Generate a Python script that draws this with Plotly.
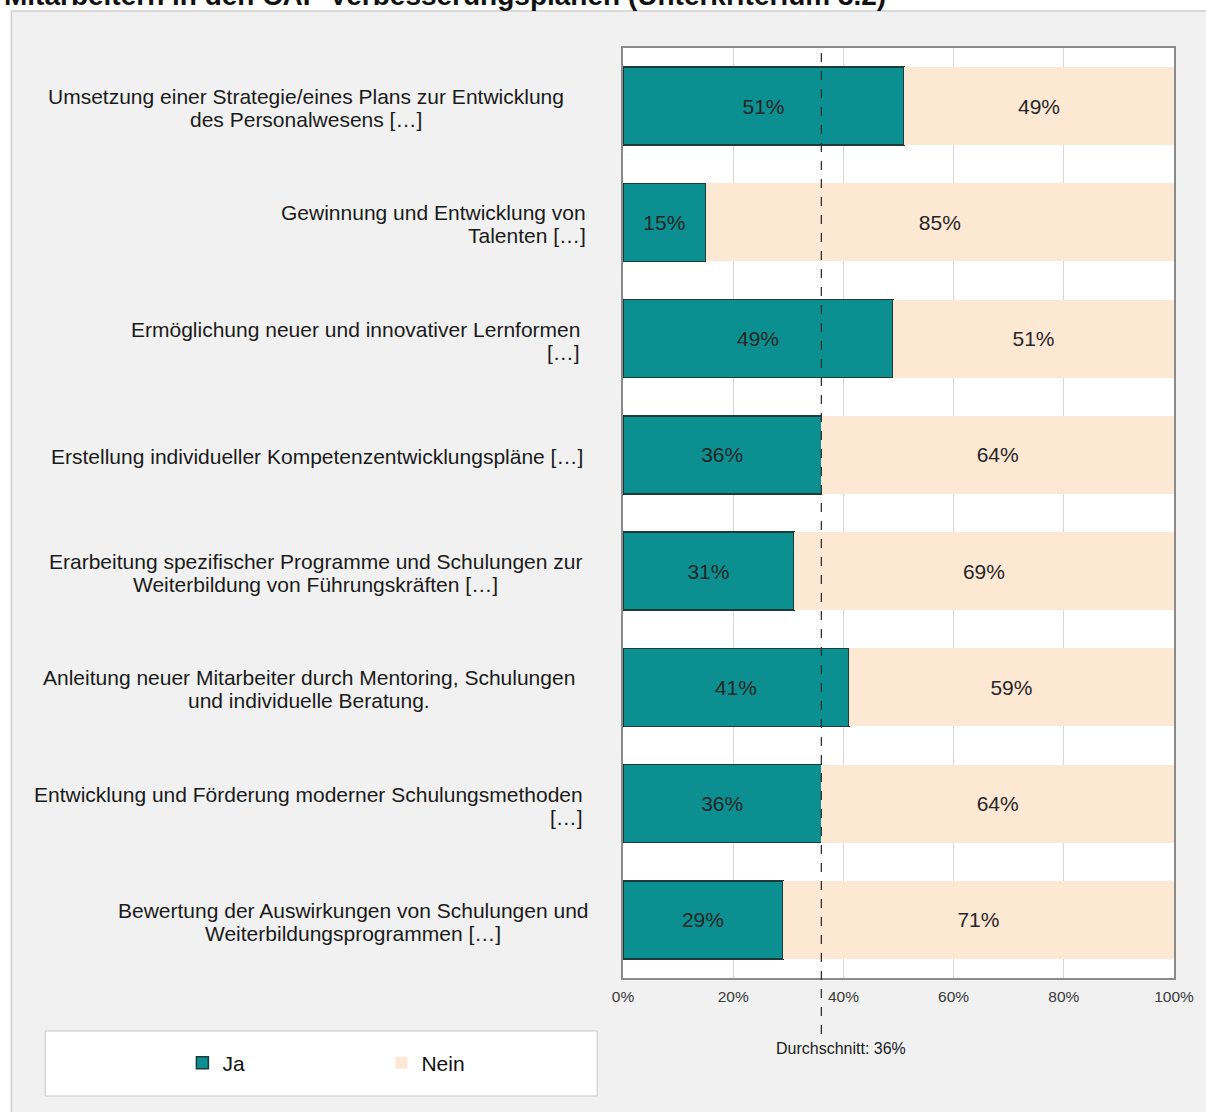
import plotly.graph_objects as go

categories = [
    "Umsetzung einer Strategie/eines Plans zur Entwicklung<br>des Personalwesens […]",
    "Gewinnung und Entwicklung von<br>Talenten […]",
    "Ermöglichung neuer und innovativer Lernformen<br>[…]",
    "Erstellung individueller Kompetenzentwicklungspläne […]",
    "Erarbeitung spezifischer Programme und Schulungen zur<br>Weiterbildung von Führungskräften […]",
    "Anleitung neuer Mitarbeiter durch Mentoring, Schulungen<br>und individuelle Beratung.",
    "Entwicklung und Förderung moderner Schulungsmethoden<br>[…]",
    "Bewertung der Auswirkungen von Schulungen und<br>Weiterbildungsprogrammen […]",
]
ja = [51, 15, 49, 36, 31, 41, 36, 29]
nein = [49, 85, 51, 64, 69, 59, 64, 71]
average = 36
x_ticks = [0, 20, 40, 60, 80, 100]
x_tick_labels = ["0%", "20%", "40%", "60%", "80%", "100%"]
title = "Mitarbeitern in den CAF-Verbesserungsplänen (Unterkriterium 3.2)"

# label layout (style): anchor x in px and anchoring mode
label_x = [304, 588, 582, 585, 314, 307, 585, 352]
label_anchor = ["center", "right", "right", "right", "center", "center", "right", "center"]

W, H = 1206, 1112
L, R, T, B = 623, 29, 48, 134
PW, PH = W - L - R, H - T - B

def px_x(p):
    return (p - L) / PW

def px_y(p):
    return 1 - (p - T) / PH

FONT = "Liberation Sans, Arial, sans-serif"
TEAL = "#0b8f90"
PEACH = "#fde8d4"

fig = go.Figure()
fig.add_trace(go.Bar(
    y=categories, x=ja, orientation="h", name="Ja",
    marker=dict(color=TEAL, line=dict(color="#1d3b3b", width=1.5)),
    text=[f"{v}%" for v in ja], textposition="inside", insidetextanchor="middle",
    textfont=dict(family=FONT, size=21, color="#262626"),
))
fig.add_trace(go.Bar(
    y=categories, x=nein, orientation="h", name="Nein",
    marker=dict(color=PEACH, line=dict(width=0)),
    text=[f"{v}%" for v in nein], textposition="inside", insidetextanchor="middle",
    textfont=dict(family=FONT, size=21, color="#262626"),
))

shapes = [
    # gray panel
    dict(type="rect", xref="paper", yref="paper", layer="below",
         x0=px_x(8), x1=px_x(1215), y0=px_y(1120), y1=px_y(11),
         fillcolor="#f1f1f1", line=dict(color="#cfcfcf", width=1.5)),
    # white plot area
    dict(type="rect", xref="paper", yref="paper", layer="below",
         x0=0, x1=1, y0=0, y1=1, fillcolor="white", line=dict(width=0)),
    # legend box
    dict(type="rect", xref="paper", yref="paper", layer="below",
         x0=px_x(42), x1=px_x(597), y0=px_y(1096), y1=px_y(1031),
         fillcolor="white", line=dict(color="#c8c8c8", width=1)),
    # average line
    dict(type="line", xref="x", yref="paper", layer="above",
         x0=average, x1=average, y0=px_y(1034), y1=1,
         line=dict(color="#333333", width=1.3, dash="dash")),
]

LINE_GAP = 23
annotations = []
for cat, xa, anc in zip(categories, label_x, label_anchor):
    lines = cat.split("<br>")
    n = len(lines)
    for i, ln in enumerate(lines):
        shift = ((n - 1) / 2 - i) * LINE_GAP
        annotations.append(dict(
            x=px_x(xa), xref="paper", y=cat, yref="y", xanchor=anc, yanchor="middle",
            yshift=shift - 2, text=ln, showarrow=False,
            font=dict(family=FONT, size=21, color="#1a1a1a"),
        ))
annotations.append(dict(
    x=px_x(842), xref="paper", y=px_y(1048), yref="paper", xanchor="center", yanchor="middle",
    text=f"Durchschnitt: {average}%", showarrow=False,
    font=dict(family=FONT, size=16, color="#1a1a1a"),
))
annotations.append(dict(
    x=px_x(-1), xref="paper", y=px_y(13), yref="paper", xanchor="left", yanchor="bottom",
    text=f"<b>{title}</b>", showarrow=False,
    font=dict(family=FONT, size=28, color="#111111"),
))

fig.update_layout(
    width=W, height=H,
    margin=dict(l=L, r=R, t=T, b=B, pad=0),
    paper_bgcolor="white", plot_bgcolor="white",
    barmode="stack", bargap=0.33,
    showlegend=True,
    legend=dict(orientation="h", x=px_x(180), y=px_y(1063), xanchor="left", yanchor="middle",
                traceorder="normal",
                font=dict(family=FONT, size=21, color="#111111"),
                bgcolor="rgba(0,0,0,0)", itemwidth=30,
                entrywidth=154, entrywidthmode="pixels"),
    shapes=shapes, annotations=annotations,
    uniformtext=dict(mode=False),
)
fig.update_xaxes(range=[0, 100], tickvals=x_ticks, ticktext=x_tick_labels,
                 showgrid=True, gridcolor="#d6d6d6", gridwidth=1,
                 showline=True, linecolor="#8a8a8a", linewidth=1.5, mirror=True,
                 ticks="", ticklabelstandoff=4,
                 tickfont=dict(family=FONT, size=15.5, color="#3a3a3a"),
                 zeroline=False, fixedrange=True)
fig.update_yaxes(autorange="reversed", showticklabels=False,
                 showline=True, linecolor="#8a8a8a", linewidth=1.5, mirror=True,
                 showgrid=False, ticks="", fixedrange=True)

fig.write_html("out.html", config={"displayModeBar": False},
               post_script="document.body.style.margin='0';document.body.style.padding='0';")
